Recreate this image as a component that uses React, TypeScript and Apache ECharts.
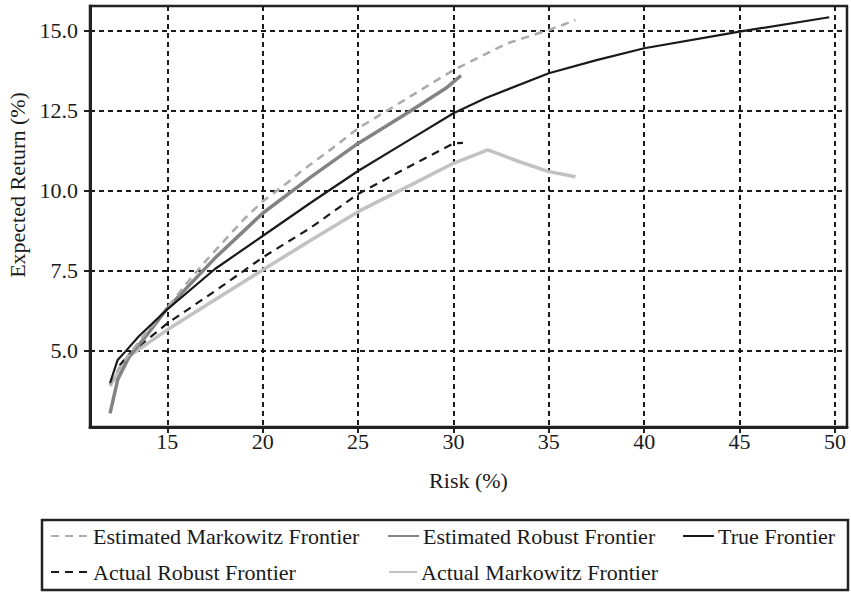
import React, { useEffect, useRef } from "react";
import * as echarts from "echarts";

// Risk (%) tick values and Expected Return (%) tick values
const xTicks = [15, 20, 25, 30, 35, 40, 45, 50];
const yTicks = [5, 7.5, 10, 12.5, 15];

// [risk, expected return]
const estimatedMarkowitz: [number, number][] = [
  [12.0, 3.95], [12.5, 4.5], [13.2, 5.05], [14, 5.65], [15, 6.35], [16, 7.1], [17, 7.8],
  [18, 8.45], [19, 9.1], [20, 9.67], [21.3, 10.25], [22, 10.6], [23.7, 11.35], [25, 11.95],
  [27.5, 12.86], [30, 13.77], [32.8, 14.6], [35, 15.02], [36.4, 15.33],
];
const estimatedRobust: [number, number][] = [
  [12.0, 3.05], [12.4, 4.1], [13.0, 4.82], [13.8, 5.4], [15, 6.33], [17.5, 7.9], [20, 9.3],
  [22.5, 10.42], [25, 11.48], [27.5, 12.4], [29.6, 13.2], [30.4, 13.6],
];
const trueFrontier: [number, number][] = [
  [12.0, 4.0], [12.4, 4.72], [12.8, 4.98], [13.5, 5.45], [15, 6.3], [17.5, 7.56], [20, 8.59],
  [22.5, 9.62], [25, 10.62], [27.5, 11.52], [30, 12.42], [31.7, 12.9], [35, 13.67],
  [37.5, 14.08], [40, 14.45], [45, 14.97], [49.7, 15.42],
];
const actualRobust: [number, number][] = [
  [12.5, 4.55], [13, 4.9], [14, 5.38], [15, 5.86], [17.5, 6.87], [20, 7.92], [22.5, 8.84],
  [25, 9.9], [27.5, 10.7], [30, 11.48], [30.5, 11.5],
];
const actualMarkowitz: [number, number][] = [
  [12.0, 3.9], [12.5, 4.42], [13.1, 4.88], [15, 5.66], [17.5, 6.6], [20, 7.53], [22.5, 8.45],
  [25, 9.35], [27.5, 10.1], [30, 10.86], [31.8, 11.28], [33.5, 10.9], [35, 10.6], [36.4, 10.44],
];

const seriesNames = [
  "Estimated Markowitz Frontier",
  "Estimated Robust Frontier",
  "True Frontier",
  "Actual Robust Frontier",
  "Actual Markowitz Frontier",
];

const FONT = '"Liberation Serif", "Times New Roman", serif';
const INK = "#1a1a1a";

export default function App() {
  const ref = useRef<HTMLDivElement>(null);

  useEffect(() => {
    if (!ref.current) return;
    const chart = echarts.init(ref.current, undefined, { renderer: "svg" });

    const legendItem = (name: string, left: number, top: number, w: number) => ({
      data: [name],
      left,
      top,
      orient: "horizontal",
      padding: 0,
      itemWidth: w,
      itemHeight: 14,
      selectedMode: false,
      itemStyle: { opacity: 0 },
      textStyle: { fontFamily: FONT, fontSize: 22, color: INK, padding: [0, 0, 0, -1] },
    });

    chart.setOption({
      animation: false,
      backgroundColor: "#ffffff",
      textStyle: { fontFamily: FONT },
      grid: {
        left: 90,
        right: 4,
        top: 6,
        bottom: 165,
        show: true,
        borderColor: "#222",
        borderWidth: 2.5,
      },
      xAxis: {
        type: "value",
        min: 10.95,
        max: 50.63,
        name: "Risk (%)",
        nameLocation: "middle",
        nameGap: 42,
        nameTextStyle: { fontFamily: FONT, fontSize: 22, color: INK },
        axisLine: { show: true, lineStyle: { color: "#222", width: 3 } },
        axisTick: { show: true, customValues: xTicks, length: 6, lineStyle: { color: "#222", width: 2 } },
        axisLabel: {
          customValues: xTicks,
          margin: 3,
          fontFamily: FONT,
          fontSize: 22,
          color: INK,
        },
        splitLine: { show: true, lineStyle: { color: INK, width: 2, type: [5, 4] } },
      },
      yAxis: {
        type: "value",
        min: 2.627,
        max: 15.77,
        axisLine: { show: true, lineStyle: { color: "#222", width: 3 } },
        axisTick: { show: true, customValues: yTicks, length: 6, lineStyle: { color: "#222", width: 2 } },
        axisLabel: {
          customValues: yTicks,
          margin: 12,
          fontFamily: FONT,
          fontSize: 22,
          color: INK,
          formatter: (v: number) => v.toFixed(1),
        },
        splitLine: { show: true, lineStyle: { color: INK, width: 2, type: [5, 4] } },
      },
      legend: [
        legendItem(seriesNames[0], 50, 525, 38),
        legendItem(seriesNames[1], 387, 525, 31),
        legendItem(seriesNames[2], 682, 525, 31),
        legendItem(seriesNames[3], 50, 561, 38),
        legendItem(seriesNames[4], 388, 561, 28),
      ],
      graphic: [
        {
          type: "rect",
          shape: { x: 42, y: 520, width: 806, height: 70 },
          style: { fill: "none", stroke: "#222", lineWidth: 2.5 },
          silent: true,
        },
        {
          type: "text",
          x: 17,
          y: 185,
          rotation: Math.PI / 2,
          style: {
            text: "Expected Return (%)",
            font: `22px ${FONT}`,
            fill: INK,
            align: "center",
            verticalAlign: "middle",
          },
          silent: true,
        },
      ],
      series: [
        {
          name: seriesNames[4],
          type: "line",
          data: actualMarkowitz,
          symbol: "none",
          lineStyle: { color: "#c2c2c2", width: 3.5 },
          itemStyle: { color: "#c2c2c2" },
          z: 2,
        },
        {
          name: seriesNames[3],
          type: "line",
          data: actualRobust,
          symbol: "none",
          lineStyle: { color: INK, width: 2.2, type: [8, 6] },
          itemStyle: { color: INK },
          z: 3,
        },
        {
          name: seriesNames[1],
          type: "line",
          data: estimatedRobust,
          symbol: "none",
          lineStyle: { color: "#838383", width: 3.5 },
          itemStyle: { color: "#838383" },
          z: 4,
        },
        {
          name: seriesNames[0],
          type: "line",
          data: estimatedMarkowitz,
          symbol: "none",
          lineStyle: { color: "#acacac", width: 2.6, type: [8, 6] },
          itemStyle: { color: "#acacac" },
          z: 5,
        },
        {
          name: seriesNames[2],
          type: "line",
          data: trueFrontier,
          symbol: "none",
          lineStyle: { color: INK, width: 2.2 },
          itemStyle: { color: INK },
          z: 6,
        },
      ],
    });

    return () => chart.dispose();
  }, []);

  return (
    <div
      ref={ref}
      style={{ position: "fixed", left: 0, top: 0, width: 851, height: 592, background: "#fff" }}
    />
  );
}
